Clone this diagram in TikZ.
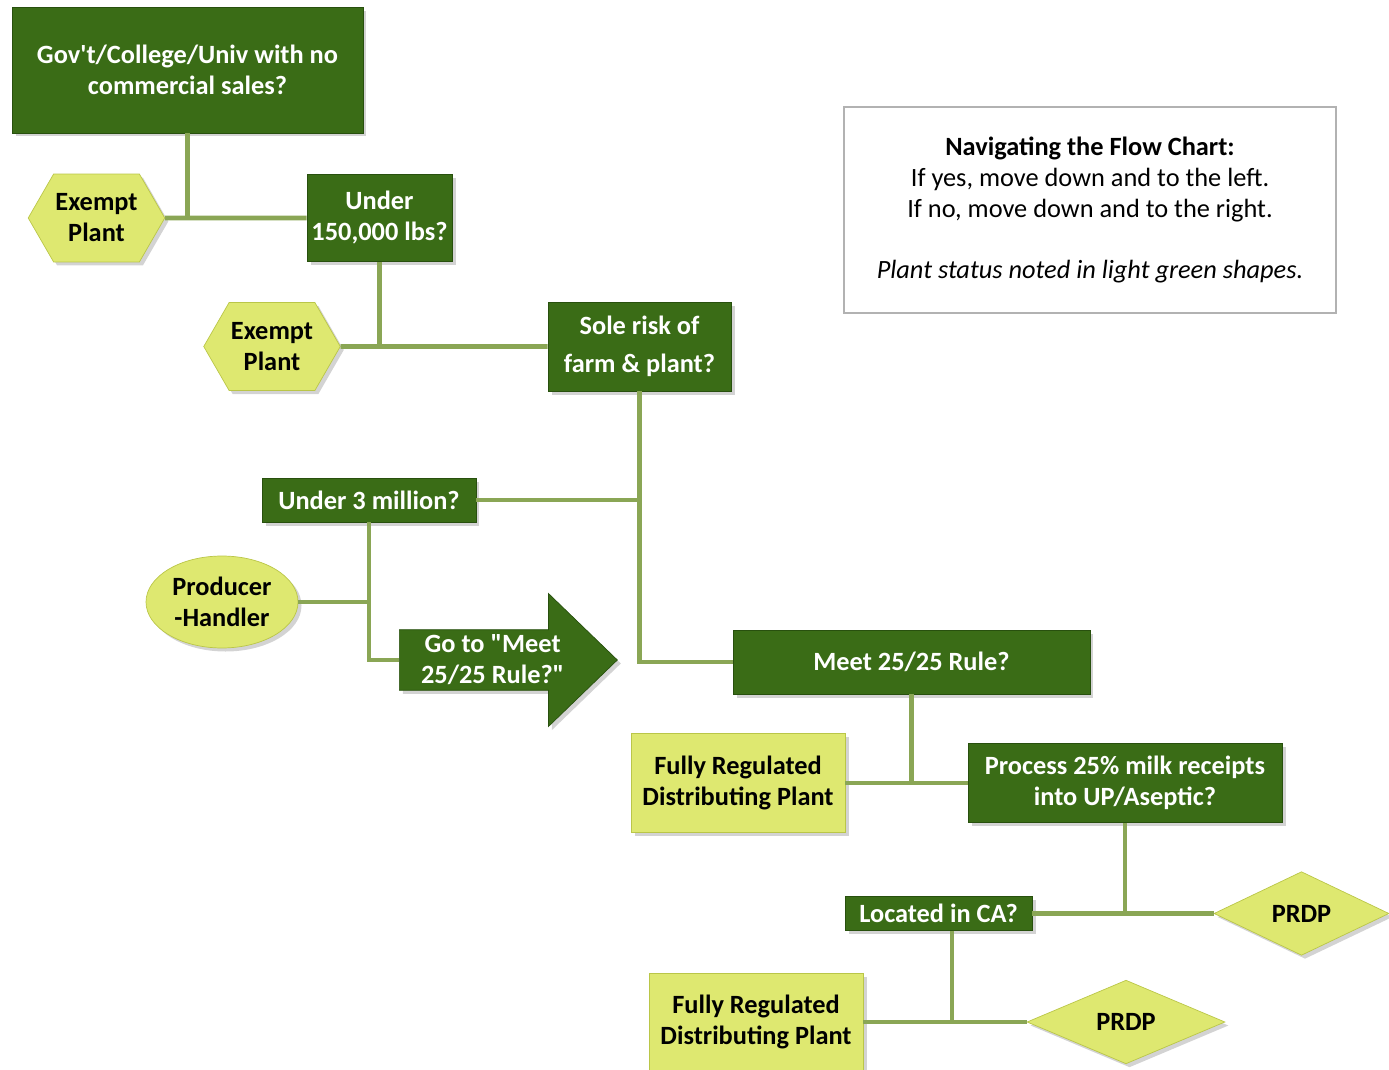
\documentclass[tikz,border=0pt]{standalone}
\usepackage{fontspec}
\setmainfont{Carlito}
\usetikzlibrary{shapes.geometric,shapes.symbols,shapes.arrows,shadows}
\definecolor{leafdark}{RGB}{58,108,22}
\definecolor{leafedge}{RGB}{40,80,14}
\definecolor{leafpale}{RGB}{222,232,112}
\definecolor{paleedge}{RGB}{186,198,72}
\definecolor{stem}{RGB}{138,166,85}
\definecolor{keygray}{RGB}{178,178,178}
\tikzset{
  question/.style={draw=leafedge, fill=leafdark, text=white, align=center, inner sep=1pt,
    font=\bfseries\fontsize{15}{17.6}\selectfont,
    drop shadow={shadow xshift=2pt, shadow yshift=-2pt, opacity=0.35}},
  status/.style={draw=paleedge, fill=leafpale, text=black, align=center, inner sep=1pt,
    font=\bfseries\fontsize{15}{17.6}\selectfont,
    drop shadow={shadow xshift=2pt, shadow yshift=-2pt, opacity=0.35}},
  link/.style={draw=stem, line width=2.8pt},
}
\begin{document}
\begin{tikzpicture}[x=0.02cm, y=-0.02cm]
    \useasboundingbox (0,0) rectangle (1389,1070);
    \node[question, minimum width=7.02cm, minimum height=2.52cm] (gov) at (187.5,70) {Gov\textquotesingle t/College/Univ with no\\commercial sales?};
    \node[status, signal, signal to=west and east, signal pointer angle=120, minimum width=2.6cm, minimum height=1.76cm] (ex1) at (96.5,218) {Exempt\\Plant};
    \node[question, minimum width=2.9cm, minimum height=1.74cm] (und1) at (379.5,218) {Under\\150,000 lbs?};
    \node[status, signal, signal to=west and east, signal pointer angle=120, minimum width=2.5cm, minimum height=1.76cm] (ex2) at (272,346.5) {Exempt\\Plant};
    \node[question, minimum width=3.66cm, minimum height=1.78cm] (sole) at (639.5,346.5) {Sole risk of\\[4pt]farm \& plant?};
    \node[question, minimum width=4.28cm, minimum height=0.88cm] (und3) at (369,500) {Under 3 million?};
    \node[status, ellipse, minimum width=3.04cm, minimum height=1.84cm] (prod) at (222,602) {Producer\\-Handler};
    \node[question, single arrow, single arrow head extend=0.65cm, single arrow tip angle=88, minimum height=4.36cm, minimum width=2.66cm, anchor=tail] (go) at (399,660) {Go to \textquotedbl Meet\\25/25 Rule?\textquotedbl};
    \node[question, minimum width=7.14cm, minimum height=1.28cm] (meet) at (911.5,662) {Meet 25/25 Rule?};
    \node[status, minimum width=4.28cm, minimum height=1.98cm] (frdp1) at (738,783) {Fully Regulated\\Distributing Plant};
    \node[question, minimum width=6.28cm, minimum height=1.58cm] (proc) at (1125,783) {Process 25\% milk receipts\\into UP/Aseptic?};
    \node[question, minimum width=3.74cm, minimum height=0.68cm] (loc) at (938.5,913.5) {Located in CA?};
    \node[status, diamond, minimum width=3.5cm, minimum height=1.14cm] (prdp1) at (1301.5,913.5) {PRDP};
    \node[status, minimum width=4.28cm, minimum height=1.94cm] (frdp2) at (756,1022) {Fully Regulated\\Distributing Plant};
    \node[status, diamond, minimum width=3.96cm, minimum height=1.18cm] (prdp2) at (1126,1022) {PRDP};
    \node[draw=keygray, line width=1.6pt, minimum width=9.84cm, minimum height=4.12cm, align=center, font=\fontsize{15}{17.6}\selectfont] (key) at (1090,210)
        {\textbf{Navigating the Flow Chart:}\\If yes, move down and to the left.\\If no, move down and to the right.\\[17.6pt]\textit{Plant status noted in light green shapes.}};
    \coordinate (locfoot) at (952,1022);
    \draw[link] (gov) -- (gov |- ex1);
    \draw[link] (ex1) -- (und1);
    \draw[link] (und1) -- (und1 |- ex2);
    \draw[link] (ex2) -- (sole);
    \draw[link] (sole) |- (meet);
    \draw[link] (und3) -- (und3 -| sole);
    \draw[link] (und3) |- (prod);
    \draw[link] (und3) |- (go);
    \draw[link] (meet) -- (meet |- proc);
    \draw[link] (frdp1) -- (proc);
    \draw[link] (proc) -- (proc |- prdp1);
    \draw[link] (loc) -- (prdp1);
    \draw[link] (locfoot |- loc.south) -- (locfoot);
    \draw[link] (frdp2) -- (prdp2);
\end{tikzpicture}
\end{document}
